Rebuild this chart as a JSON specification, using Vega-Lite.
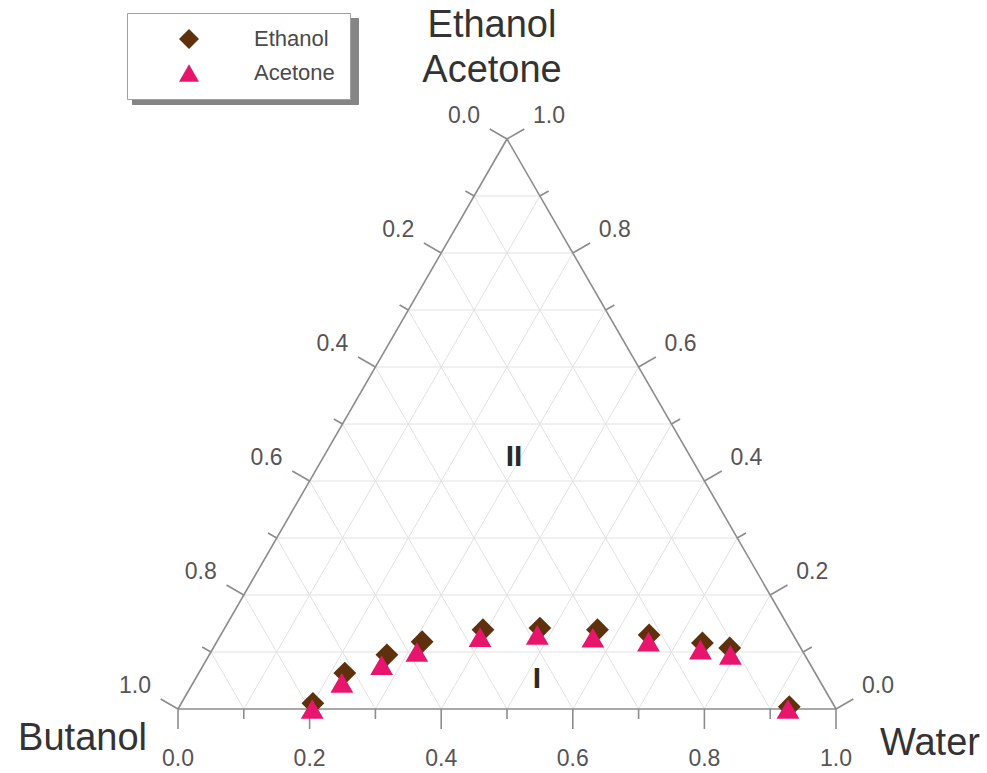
{
  "$schema": "https://vega.github.io/schema/vega-lite/v6.json",
  "width": 658,
  "height": 570,
  "autosize": {"type": "none"},
  "padding": {"left": 178, "top": 139, "right": 151, "bottom": 64},
  "background": "white",
  "config": {"view": {"stroke": null}, "font": "Liberation Sans"},
  "datasets": {
    "grid": [
      {"x": 0.05, "y": 0.0866, "xe": 0.95, "ye": 0.0866},
      {"x": 0.10, "y": 0.1732, "xe": 0.90, "ye": 0.1732},
      {"x": 0.15, "y": 0.2598, "xe": 0.85, "ye": 0.2598},
      {"x": 0.20, "y": 0.3464, "xe": 0.80, "ye": 0.3464},
      {"x": 0.25, "y": 0.4330, "xe": 0.75, "ye": 0.4330},
      {"x": 0.30, "y": 0.5196, "xe": 0.70, "ye": 0.5196},
      {"x": 0.35, "y": 0.6062, "xe": 0.65, "ye": 0.6062},
      {"x": 0.40, "y": 0.6928, "xe": 0.60, "ye": 0.6928},
      {"x": 0.45, "y": 0.7794, "xe": 0.55, "ye": 0.7794},
      {"x": 0.1, "y": 0, "xe": 0.55, "ye": 0.7794},
      {"x": 0.2, "y": 0, "xe": 0.60, "ye": 0.6928},
      {"x": 0.3, "y": 0, "xe": 0.65, "ye": 0.6062},
      {"x": 0.4, "y": 0, "xe": 0.70, "ye": 0.5196},
      {"x": 0.5, "y": 0, "xe": 0.75, "ye": 0.4330},
      {"x": 0.6, "y": 0, "xe": 0.80, "ye": 0.3464},
      {"x": 0.7, "y": 0, "xe": 0.85, "ye": 0.2598},
      {"x": 0.8, "y": 0, "xe": 0.90, "ye": 0.1732},
      {"x": 0.9, "y": 0, "xe": 0.95, "ye": 0.0866},
      {"x": 0.1, "y": 0, "xe": 0.05, "ye": 0.0866},
      {"x": 0.2, "y": 0, "xe": 0.10, "ye": 0.1732},
      {"x": 0.3, "y": 0, "xe": 0.15, "ye": 0.2598},
      {"x": 0.4, "y": 0, "xe": 0.20, "ye": 0.3464},
      {"x": 0.5, "y": 0, "xe": 0.25, "ye": 0.4330},
      {"x": 0.6, "y": 0, "xe": 0.30, "ye": 0.5196},
      {"x": 0.7, "y": 0, "xe": 0.35, "ye": 0.6062},
      {"x": 0.8, "y": 0, "xe": 0.40, "ye": 0.6928},
      {"x": 0.9, "y": 0, "xe": 0.45, "ye": 0.7794}
    ],
    "frame": [
      {"part": "edge", "x": 0, "y": 0, "xe": 1, "ye": 0},
      {"part": "edge", "x": 0, "y": 0, "xe": 0.5, "ye": 0.8660},
      {"part": "edge", "x": 1, "y": 0, "xe": 0.5, "ye": 0.8660},
      {"part": "tick", "x": 0.0, "y": 0, "xe": 0.0, "ye": -0.0304},
      {"part": "tick", "x": 0.1, "y": 0, "xe": 0.1, "ye": -0.0152},
      {"part": "tick", "x": 0.2, "y": 0, "xe": 0.2, "ye": -0.0304},
      {"part": "tick", "x": 0.3, "y": 0, "xe": 0.3, "ye": -0.0152},
      {"part": "tick", "x": 0.4, "y": 0, "xe": 0.4, "ye": -0.0304},
      {"part": "tick", "x": 0.5, "y": 0, "xe": 0.5, "ye": -0.0152},
      {"part": "tick", "x": 0.6, "y": 0, "xe": 0.6, "ye": -0.0304},
      {"part": "tick", "x": 0.7, "y": 0, "xe": 0.7, "ye": -0.0152},
      {"part": "tick", "x": 0.8, "y": 0, "xe": 0.8, "ye": -0.0304},
      {"part": "tick", "x": 0.9, "y": 0, "xe": 0.9, "ye": -0.0152},
      {"part": "tick", "x": 1.0, "y": 0, "xe": 1.0, "ye": -0.0304},
      {"part": "tick", "x": 0.00, "y": 0.0000, "xe": -0.0263, "ye": 0.0152},
      {"part": "tick", "x": 0.05, "y": 0.0866, "xe": 0.0368, "ye": 0.0942},
      {"part": "tick", "x": 0.10, "y": 0.1732, "xe": 0.0737, "ye": 0.1884},
      {"part": "tick", "x": 0.15, "y": 0.2598, "xe": 0.1368, "ye": 0.2674},
      {"part": "tick", "x": 0.20, "y": 0.3464, "xe": 0.1737, "ye": 0.3616},
      {"part": "tick", "x": 0.25, "y": 0.4330, "xe": 0.2368, "ye": 0.4406},
      {"part": "tick", "x": 0.30, "y": 0.5196, "xe": 0.2737, "ye": 0.5348},
      {"part": "tick", "x": 0.35, "y": 0.6062, "xe": 0.3368, "ye": 0.6138},
      {"part": "tick", "x": 0.40, "y": 0.6928, "xe": 0.3737, "ye": 0.7080},
      {"part": "tick", "x": 0.45, "y": 0.7794, "xe": 0.4368, "ye": 0.7870},
      {"part": "tick", "x": 0.50, "y": 0.8660, "xe": 0.4737, "ye": 0.8812},
      {"part": "tick", "x": 1.00, "y": 0.0000, "xe": 1.0263, "ye": 0.0152},
      {"part": "tick", "x": 0.95, "y": 0.0866, "xe": 0.9632, "ye": 0.0942},
      {"part": "tick", "x": 0.90, "y": 0.1732, "xe": 0.9263, "ye": 0.1884},
      {"part": "tick", "x": 0.85, "y": 0.2598, "xe": 0.8632, "ye": 0.2674},
      {"part": "tick", "x": 0.80, "y": 0.3464, "xe": 0.8263, "ye": 0.3616},
      {"part": "tick", "x": 0.75, "y": 0.4330, "xe": 0.7632, "ye": 0.4406},
      {"part": "tick", "x": 0.70, "y": 0.5196, "xe": 0.7263, "ye": 0.5348},
      {"part": "tick", "x": 0.65, "y": 0.6062, "xe": 0.6632, "ye": 0.6138},
      {"part": "tick", "x": 0.60, "y": 0.6928, "xe": 0.6263, "ye": 0.7080},
      {"part": "tick", "x": 0.55, "y": 0.7794, "xe": 0.5632, "ye": 0.7870},
      {"part": "tick", "x": 0.50, "y": 0.8660, "xe": 0.5263, "ye": 0.8812}
    ],
    "ticklabels": [
      {"side": "bottom", "x": 0.0, "y": 0, "label": "0.0"},
      {"side": "bottom", "x": 0.2, "y": 0, "label": "0.2"},
      {"side": "bottom", "x": 0.4, "y": 0, "label": "0.4"},
      {"side": "bottom", "x": 0.6, "y": 0, "label": "0.6"},
      {"side": "bottom", "x": 0.8, "y": 0, "label": "0.8"},
      {"side": "bottom", "x": 1.0, "y": 0, "label": "1.0"},
      {"side": "left", "x": 0.5, "y": 0.8660, "label": "0.0"},
      {"side": "left", "x": 0.4, "y": 0.6928, "label": "0.2"},
      {"side": "left", "x": 0.3, "y": 0.5196, "label": "0.4"},
      {"side": "left", "x": 0.2, "y": 0.3464, "label": "0.6"},
      {"side": "left", "x": 0.1, "y": 0.1732, "label": "0.8"},
      {"side": "left", "x": 0.0, "y": 0.0, "label": "1.0"},
      {"side": "right", "x": 1.0, "y": 0.0, "label": "0.0"},
      {"side": "right", "x": 0.9, "y": 0.1732, "label": "0.2"},
      {"side": "right", "x": 0.8, "y": 0.3464, "label": "0.4"},
      {"side": "right", "x": 0.7, "y": 0.5196, "label": "0.6"},
      {"side": "right", "x": 0.6, "y": 0.6928, "label": "0.8"},
      {"side": "right", "x": 0.5, "y": 0.8660, "label": "1.0"}
    ],
    "corners": [
      {"corner": "top", "x": 0.5, "y": 0.8660, "name": "Ethanol\nAcetone"},
      {"corner": "left", "x": 0.0, "y": 0.0, "name": "Butanol"},
      {"corner": "right", "x": 1.0, "y": 0.0, "name": "Water"}
    ],
    "regions": [
      {"region": "II", "x": 0.5106, "y": 0.3830},
      {"region": "I", "x": 0.5456, "y": 0.0456}
    ],
    "tielines": [
      {"solvent": "Ethanol", "water": 0.200, "fraction": 0.010},
      {"solvent": "Ethanol", "water": 0.222, "fraction": 0.063},
      {"solvent": "Ethanol", "water": 0.270, "fraction": 0.095},
      {"solvent": "Ethanol", "water": 0.312, "fraction": 0.118},
      {"solvent": "Ethanol", "water": 0.394, "fraction": 0.139},
      {"solvent": "Ethanol", "water": 0.479, "fraction": 0.142},
      {"solvent": "Ethanol", "water": 0.568, "fraction": 0.139},
      {"solvent": "Ethanol", "water": 0.651, "fraction": 0.130},
      {"solvent": "Ethanol", "water": 0.739, "fraction": 0.116},
      {"solvent": "Ethanol", "water": 0.785, "fraction": 0.107},
      {"solvent": "Ethanol", "water": 0.927, "fraction": 0.004},
      {"solvent": "Acetone", "water": 0.204, "fraction": 0.000},
      {"solvent": "Acetone", "water": 0.226, "fraction": 0.046},
      {"solvent": "Acetone", "water": 0.271, "fraction": 0.077},
      {"solvent": "Acetone", "water": 0.313, "fraction": 0.100},
      {"solvent": "Acetone", "water": 0.396, "fraction": 0.126},
      {"solvent": "Acetone", "water": 0.481, "fraction": 0.130},
      {"solvent": "Acetone", "water": 0.568, "fraction": 0.125},
      {"solvent": "Acetone", "water": 0.656, "fraction": 0.118},
      {"solvent": "Acetone", "water": 0.742, "fraction": 0.104},
      {"solvent": "Acetone", "water": 0.792, "fraction": 0.095},
      {"solvent": "Acetone", "water": 0.927, "fraction": 0.000}
    ]
  },
  "encoding": {
    "x": {"field": "x", "type": "quantitative", "scale": {"domain": [0, 1], "nice": false, "zero": false}, "axis": null},
    "y": {"field": "y", "type": "quantitative", "scale": {"domain": [0, 0.8660254], "nice": false, "zero": false}, "axis": null}
  },
  "layer": [
    {
      "data": {"name": "grid"},
      "mark": {"type": "rule", "color": "#e2e2e2", "strokeWidth": 1},
      "encoding": {"x2": {"field": "xe"}, "y2": {"field": "ye"}}
    },
    {
      "data": {"name": "frame"},
      "mark": {"type": "rule", "color": "#8c8c8c", "strokeWidth": 1.6},
      "encoding": {
        "x2": {"field": "xe"},
        "y2": {"field": "ye"},
        "opacity": {
          "field": "part", "type": "nominal",
          "scale": {"type": "ordinal", "domain": ["edge", "tick"], "range": [1, 1]},
          "legend": {
            "title": null, "orient": "none", "legendX": -46, "legendY": -121, "zindex": 0,
            "padding": 15, "strokeColor": "#858585", "fillColor": "#858585",
            "labelFontSize": 22, "labelFont": "Liberation Sans", "labelOpacity": 0,
            "labelExpr": "''",
            "symbolOffset": 36, "labelOffset": 138, "rowPadding": 12, "symbolSize": 400,
            "symbolOpacity": 0
          }
        }
      }
    },
    {
      "data": {"name": "ticklabels"},
      "transform": [{"filter": "datum.side === 'bottom'"}],
      "mark": {"type": "text", "fontSize": 23, "color": "#555555", "align": "center", "baseline": "middle", "dy": 50},
      "encoding": {"text": {"field": "label"}}
    },
    {
      "data": {"name": "ticklabels"},
      "transform": [{"filter": "datum.side === 'left'"}],
      "mark": {"type": "text", "fontSize": 23, "color": "#555555", "align": "center", "baseline": "middle", "dx": -43, "dy": -23},
      "encoding": {"text": {"field": "label"}}
    },
    {
      "data": {"name": "ticklabels"},
      "transform": [{"filter": "datum.side === 'right'"}],
      "mark": {"type": "text", "fontSize": 23, "color": "#555555", "align": "center", "baseline": "middle", "dx": 42, "dy": -23},
      "encoding": {"text": {"field": "label"}}
    },
    {
      "data": {"name": "corners"},
      "transform": [{"filter": "datum.corner === 'top'"}],
      "mark": {"type": "text", "fontSize": 38, "color": "#333333", "align": "center", "baseline": "top", "lineBreak": "\n", "lineHeight": 45, "dx": -15, "dy": -132},
      "encoding": {"text": {"field": "name"}}
    },
    {
      "data": {"name": "corners"},
      "transform": [{"filter": "datum.corner === 'left'"}],
      "mark": {"type": "text", "fontSize": 38, "color": "#333333", "align": "right", "baseline": "alphabetic", "dx": -31, "dy": 41},
      "encoding": {"text": {"field": "name"}}
    },
    {
      "data": {"name": "corners"},
      "transform": [{"filter": "datum.corner === 'right'"}],
      "mark": {"type": "text", "fontSize": 38, "color": "#333333", "align": "left", "baseline": "alphabetic", "dx": 44, "dy": 46},
      "encoding": {"text": {"field": "name"}}
    },
    {
      "data": {"name": "regions"},
      "mark": {"type": "text", "fontSize": 30, "fontWeight": "bold", "color": "#2a2a2a", "align": "center", "baseline": "middle"},
      "encoding": {"text": {"field": "region"}}
    },
    {
      "data": {"name": "tielines"},
      "transform": [
        {"calculate": "datum.water + datum.fraction / 2", "as": "x"},
        {"calculate": "datum.fraction * sqrt(3) / 2", "as": "y"}
      ],
      "mark": {"type": "point", "filled": true, "opacity": 1, "size": 520, "strokeWidth": 0},
      "encoding": {
        "color": {
          "field": "solvent", "type": "nominal",
          "scale": {"domain": ["Ethanol", "Acetone"], "range": ["#5e300c", "#e8156c"]},
          "legend": {
            "title": null, "orient": "none", "legendX": -51, "legendY": -126, "zindex": 2,
            "padding": 15, "strokeColor": "#a0a0a0", "fillColor": "white",
            "labelFontSize": 22, "labelColor": "#4a4a4a", "labelFont": "Liberation Sans",
            "symbolOffset": 36, "labelOffset": 54, "rowPadding": 12, "symbolSize": 400,
            "symbolStrokeWidth": 0
          }
        },
        "shape": {
          "field": "solvent", "type": "nominal",
          "scale": {"domain": ["Ethanol", "Acetone"], "range": ["diamond", "triangle-up"]},
          "legend": {
            "title": null, "orient": "none", "legendX": -51, "legendY": -126, "zindex": 2,
            "padding": 15, "strokeColor": "#a0a0a0", "fillColor": "white",
            "labelFontSize": 22, "labelColor": "#4a4a4a", "labelFont": "Liberation Sans",
            "symbolOffset": 36, "labelOffset": 54, "rowPadding": 12, "symbolSize": 400,
            "symbolStrokeWidth": 0
          }
        }
      }
    }
  ]
}
